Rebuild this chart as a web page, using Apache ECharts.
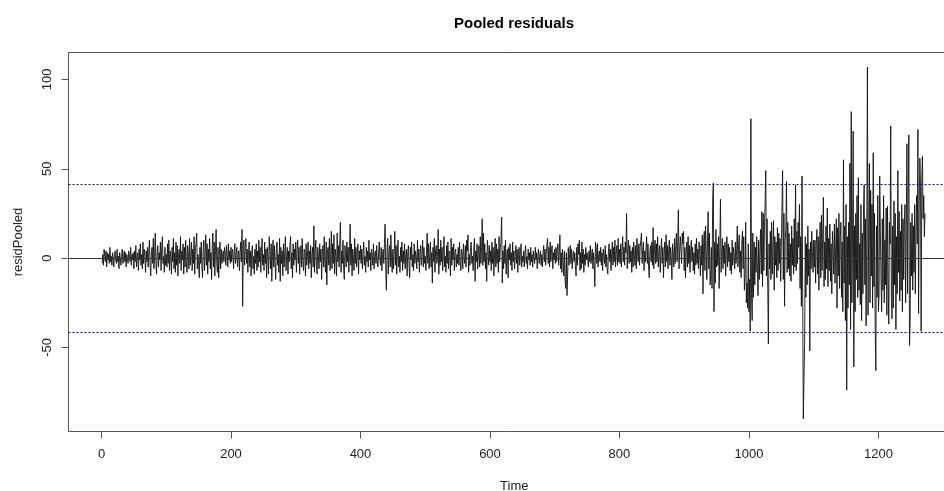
<!DOCTYPE html>
<html>
<head>
<meta charset="utf-8">
<script src="https://cdn.jsdelivr.net/npm/echarts@6/dist/echarts.min.js"></script>
<style>
  html, body { margin: 0; padding: 0; background: #fff; }
  #chart { width: 944px; height: 491px; }
</style>
</head>
<body>
<div id="chart"></div>
<script>
// residuals, one value per time step starting at 1
const timeStart = 1;
const residPooled = [
  -3, 2, -4, 5, 1, -2, 4, -5, 3, -1, 2, -3, 6, -2, 1, -4, 3, 0, -5, 2,
  4, -1, -3, 5, -2, 1, -6, 3, 2, -4, 1, 5, -3, -1, 4, -2, 3, -5, 2, 0,
  -3, 4, 1, -2, 6, -4, 2, -1, 3, -6,
  4, -2, 7, -5, 1, 3, -7, 5, -1, 8, -4, 2, -6, 9, -3, 5, 1, -8, 4, -2,
  6, -5, 3, 10, -4, -10, 2, 6, -3, 11, -6, 1, 14, -2, -9, 4, 7, -5, 3, -1,
  9, -7, 5, 12, -3, 1, -8, 6, -4, 2,
  -5, 8, -3, 10, -7, 4, 1, -9, 6, -2, 11, -6, 3, -8, 9, -4, 7, -10, 2, 5,
  -3, 12, -7, 4, -1, 8, -9, 6, -5, 10, -2, -8, 7, 3, -6, 11, -4, 1, 9, -7,
  5, -3, 12, -9, 4, 8, 14, -6, 2, -4,
  -11, 6, -3, 9, -5, -11, 4, 10, -7, 2, 13, -4, 8, -9, 5, -2, 11, -6, 3, -12,
  7, 14, -5, 9, -10, 4, 16, -3, -8, 6, -11, 2, 9, -6, 5, -3, 1, 4, -2, 6,
  3, -4, 7, 2, -5, 8, -1, 4, -3, 6,
  -2, 5, 3, -6, 4, 8, -3, 2, 6, -5, 1, 4, -7, 3, 9, -2, 16, -27, 7, 10,
  -4, 6, 11, -3, 5, -8, 2, 9, -5, 4, -10, 3, 7, -6, 1, -9, 5, -3, 8, -7,
  4, -5, 10, -2, 6, -8, 3, 11, -4, 2,
  -7, 9, -3, 5, -11, 6, 1, -9, 12, 4, -6, 8, -13, 3, 10, -5, 7, -2, -12, 5,
  9, -4, 2, -8, 11, -13, 6, -3, 4, -10, 8, -5, 3, 12, -7, 1, 6, -9, 4, -2,
  7, 12, -6, 3, -11, 8, -4, 5, -1, 9,
  -8, 4, 10, -3, 6, -9, 2, 7, -5, 11, -2, -7, 5, 3, -10, 8, -4, 1, 9, -6,
  4, -3, 7, -11, 2, 6, -5, 18, -8, 3, 10, -4, -9, 6, 1, -6, 8, -2, 5, -12,
  3, 7, -5, 12, -3, -8, 9, -15, 4, 6,
  -4, 11, -7, 2, 15, -6, 8, -3, 13, -9, 5, 1, -10, 14, -2, 7, -5, 9, 20, -8,
  4, -3, 10, -6, -12, 7, 2, -5, 9, -2, 6, -8, 3, 19, -4, 8, -10, 5, 1, -7,
  11, -3, 6, -5, 2, 8, -9, 4, -1, 7,
  -3, 5, -6, 2, 9, -4, 1, -8, 6, -2, 4, -5, 10, -1, 3, -7, 5, 2, -4, 8,
  -6, 1, 4, -3, 7, -2, -5, 3, 9, -1, -4, 6, -7, 2, 5, -3, 8, 19, -6, -18,
  4, 11, -9, 3, 7, -5, 13, -2, -8, 5,
  -6, 2, 15, -4, 7, -9, 3, 10, -5, 1, -8, 6, -2, 9, -7, 4, -3, 8, -6, 2,
  5, -10, 3, 7, -4, -11, 6, -1, 9, -5, 2, -7, 8, -3, 4, 1, -6, 10, -2, 5,
  -8, 3, 7, -4, 2, 10, -5, 6, -3, 1,
  -7, 4, 14, -3, 8, -6, 2, 9, -5, 3, -14, 6, -2, 11, -8, 4, 7, -3, 1, 16,
  -9, 5, -4, 10, -2, 6, -7, 3, 12, -5, 1, -8, 7, -3, 9, -6, 4, 2, -10, 11,
  -4, 6, -1, 8, -7, 3, 5, -5, 2, -3,
  6, -4, 9, -2, -7, 5, 3, -6, 8, 1, -3, 7, -5, 10, 4, 13, -8, 2, -4, 6,
  9, -3, 1, -7, 5, 11, -13, 4, -2, 8, -6, 3, 7, -5, 12, -3, 6, 22, -4, 14,
  -2, 8, -6, 3, -13, 10, 5, -4, 7, -2,
  4, -7, 9, -3, 6, -10, 2, 11, -5, 8, -3, 5, -8, 12, -2, 6, 9, 23, -14, 4,
  -6, 7, -3, 10, -9, 2, 5, -11, 6, -1, 8, -4, 3, -7, 9, -2, 4, -6, 1, 7,
  -3, 5, -8, 2, 6, -4, 3, 8, -5, 1,
  -2, 4, -5, 3, 7, -3, 1, -6, 5, -1, 3, -4, 6, -2, 2, -5, 4, 0, -3, 6,
  -1, 3, -6, 2, 5, -3, 1, 4, -4, 2, -5, 3, 7, -2, 5, -4, 2, 8, 11, -3,
  6, -5, 9, -2, 4, 7, -6, 3, -1, 5,
  -3, 6, -2, 4, 8, -4, 2, 13, -6, 3, -8, 5, -2, -10, 4, -12, -17, 3, -21, -9,
  6, -4, 2, 7, -3, 5, -6, 1, 4, -2, 3, -5, -10, 6, -4, 8, 2, 10, -7, 3,
  -6, 9, -3, 5, -8, 2, -4, 6, -1, 3,
  2, -5, 4, -2, 7, -3, 1, 5, -6, 3, -4, -16, 9, 6, -3, 8, -5, 2, 4, -2,
  6, -4, 3, -7, 5, 1, -3, 7, -5, 2, -6, -9, 4, 8, -2, 5, -7, 3, 9, -4,
  6, -2, 10, -5, 3, 7, -4, 11, -2, 5,
  -3, 8, -5, 4, 12, -2, 6, -4, 9, 3, 25, -6, 5, 10, -3, 7, -2, 4, -8, 6,
  -5, 9, 2, -4, 7, -6, 11, 3, -2, 8, -4, 6, 10, 14, -3, 5, 9, -7, 4, -2,
  6, 12, -3, 8, -5, -11, 4, 7, -2, 9,
  -4, 17, -6, 5, 10, -3, 8, -2, 12, -5, 3, 7, -8, 4, 11, -3, 6, -11, 2, 9,
  -5, 13, -2, 7, -6, 4, 10, -4, 6, 1, -12, 8, 3, -5, 11, -3, 7, 14, -2, 9,
  27, -6, 4, 12, 5, -3, 14, 8, 15, -7,
  6, -11, 3, 9, -5, 12, -3, 7, -8, 4, 10, -2, 6, -7, 3, -9, 8, -4, 11, -3,
  5, -6, 9, 2, -10, 7, -4, 13, -20, 8, 15, -7, 18, 4, -12, 10, 26, -6, 14, -15,
  -9, 6, -17, 33, 42, -30, 9, -14, 16, -5,
  8, -4, 12, -17, 5, 33, -8, 3, 11, -6, 7, -3, 9, -10, 4, 12, -5, 8, -2, 6,
  -7, 3, -9, 10, -4, 6, 2, -6, 9, -3, 5, 18, -5, 7, 13, -8, 4, -11, 9, 15,
  -6, 12, -18, -9, 20, -25, -14, -28, 8, -30,
  -12, -41, 78, -20, -35, 14, -22, 9, -15, 6, -8, 12, -5, -21, 10, -12, 4, 16, -9, 26,
  -16, 25, -7, 18, 31, 49, -10, 22, -14, -48, 8, -6, 15, -12, 20, -9, 5, 21, -18, 12,
  -4, 9, -11, 17, -7, 14, -3, 11, -13, 6,
  7, 49, -12, 25, -27, 10, 16, 43, -8, 20, -6, 14, -10, 8, -13, 18, -4, 11, -9, 22,
  -5, 41, -7, 15, -3, 20, 6, 30, -17, 12, -27, 46, -20, -90, -67, -49, 12, -22, 8, -15,
  18, -10, 5, -52, 9, -6, 15, 3, -8, 10,
  -5, 10, -14, 8, 16, -9, 12, -18, 6, 20, -11, 24, -7, 14, 34, -16, 9, -12, 18, -6,
  28, -16, 11, -7, 19, -13, 8, -20, 15, 5, -9, 19, -14, 6, 22, -28, 17, -10, 25, -17,
  12, 20, -22, 9, -30, 55, -14, 18, -35, 30,
  -74, 12, -28, 20, -15, 53, -40, 82, -25, 10, 71, -61, 18, -30, 25, -12, 35, -22, 45, -18,
  8, -26, 30, -35, 14, -20, 28, 41, -15, 22, -38, 12, 107, -32, 20, 53, -25, 38, -10, 30,
  -28, 59, -16, 25, -40, -63, 18, -22, 35, -30,
  -20, 46, 15, -12, -30, 22, -18, 35, -25, 10, -15, 28, -32, 29, -10, -37, 20, 8, 74, -22,
  -34, 18, -28, 32, -15, 25, -40, 12, -20, 49, -8, 26, -24, 15, -18, 30, -30, 22, -12, 18,
  30, -25, 15, 64, -20, 35, 69, -49, -35, 20,
  -10, 25, -18, 18, -8, 30, -20, 15, 35, 8, 72, -31, 28, 56, 40, -41, 45, 57, 22, 35,
  12, 25
];
const xTickValues = [0, 200, 400, 600, 800, 1000, 1200];
const yTickValues = [-50, 0, 50, 100];
const bandLimit = 41.4;

const seriesData = residPooled.map((v, i) => [timeStart + i, v]);

const chart = echarts.init(document.getElementById('chart'), null, { renderer: 'canvas' });

const textStyle = { color: '#222', fontFamily: 'Liberation Sans, Arial', fontSize: 13 };
const plain = (v) => String(v);

const option = {
  animation: false,
  backgroundColor: '#fff',
  title: {
    text: 'Pooled residuals',
    left: 509,
    top: 11,
    textAlign: 'center',
    textStyle: { color: '#000', fontFamily: 'Liberation Sans, Arial', fontSize: 15, fontWeight: 'bold' }
  },
  grid: {
    left: 68.5,
    top: 52.5,
    right: -16,
    bottom: 59.5,
    show: true,
    borderColor: '#555',
    borderWidth: 1,
    outerBoundsMode: 'none'
  },
  xAxis: {
    type: 'value',
    min: -51,
    max: 1326,
    name: 'Time',
    nameLocation: 'middle',
    nameGap: 48,
    nameTextStyle: textStyle,
    axisLine: { show: false, onZero: false },
    axisTick: { show: true, length: 7, lineStyle: { color: '#555' }, customValues: xTickValues },
    axisLabel: { margin: 16, customValues: xTickValues, formatter: plain, ...textStyle },
    splitLine: { show: false }
  },
  yAxis: {
    type: 'value',
    min: -97.1,
    max: 115.1,
    name: 'residPooled',
    nameLocation: 'middle',
    nameGap: 44,
    nameTextStyle: textStyle,
    axisLine: { show: false, onZero: false },
    axisTick: { show: true, length: 7, lineStyle: { color: '#555' }, customValues: yTickValues },
    axisLabel: { margin: 15, rotate: 90, customValues: yTickValues, formatter: plain, ...textStyle },
    splitLine: { show: false }
  },
  series: [{
    type: 'line',
    data: seriesData,
    showSymbol: false,
    symbol: 'none',
    lineStyle: { color: '#111', width: 0.9 },
    z: 3,
    markLine: {
      silent: true,
      symbol: 'none',
      label: { show: false },
      emphasis: { disabled: true },
      data: [
        { yAxis: 0, lineStyle: { color: '#333', type: 'solid', width: 1 } },
        { yAxis: bandLimit, lineStyle: { color: '#0000ff', type: [2, 2], width: 1 } },
        { yAxis: -bandLimit, lineStyle: { color: '#0000ff', type: [2, 2], width: 1 } }
      ]
    }
  }]
};

chart.setOption(option);
</script>
</body>
</html>
